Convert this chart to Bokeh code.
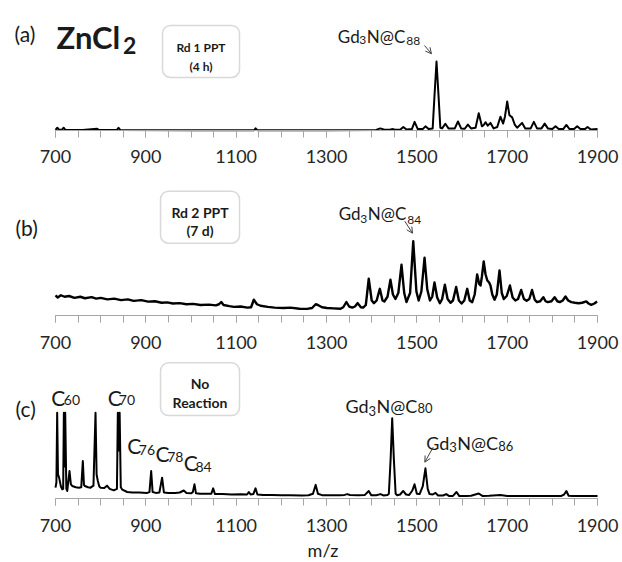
from bokeh.plotting import figure
from bokeh.models import Range1d, FixedTicker, Label, BoxAnnotation, Arrow, OpenHead
from bokeh.layouts import column
from bokeh.embed import file_html
from bokeh.resources import INLINE

# ---------------- data ----------------
TICKS = [700, 900, 1100, 1300, 1500, 1700, 1900]
TICK_LABELS = ["700", "900", "1100", "1300", "1500", "1700", "1900"]
MINOR_TICKS = [700, 750, 800, 850, 900, 950, 1000, 1050, 1100, 1150, 1200, 1250, 1300,
               1350, 1400, 1450, 1500, 1550, 1600, 1650, 1700, 1750, 1800, 1850, 1900]

# (a) ZnCl2, Rd 1 PPT (4 h)
mz_a = [700, 704, 708, 714, 718, 722, 760, 792, 796, 836, 839.5, 843, 1000, 1140, 1143, 1147,
        1300, 1410, 1419, 1428, 1440, 1445, 1452, 1463, 1470, 1477, 1489, 1495, 1502, 1513,
        1519, 1526, 1535, 1539, 1543.5, 1548, 1552, 1556, 1563, 1570, 1584, 1591, 1598, 1606,
        1613, 1620, 1630, 1637, 1644, 1648, 1652, 1657, 1663, 1670, 1678, 1685, 1691, 1695,
        1700, 1705, 1711, 1717, 1722, 1733, 1740, 1752, 1759, 1766, 1776, 1783, 1790, 1800,
        1807, 1814, 1824, 1831, 1838, 1848, 1855, 1862, 1872, 1878, 1885, 1900]
int_a = [1, 4, 1, 1, 4, 1, 0.8, 2.5, 0.8, 0.8, 4, 0.8, 0.5, 0.5, 3, 0.5,
         0.5, 0.8, 3, 1, 1, 2, 1, 1, 5, 1.5, 2, 12.5, 2, 2,
         6, 2, 3, 50, 100, 50, 4, 3, 9.7, 3, 3, 13, 3, 2.5,
         8.5, 3, 4, 25, 6, 8, 12, 7, 11, 3, 5, 20, 10, 20,
         42, 22, 19, 8, 4, 11, 3, 3, 12.5, 3, 3, 10, 3, 2,
         6, 2, 2, 8, 2, 2, 6, 2, 2, 5, 1.5, 2]

# (b) Rd 2 PPT (7 d)
mz_b = [700, 705, 712, 720, 730, 742, 755, 765, 780, 790, 800, 815, 830, 845, 860, 873, 890,
        905, 920, 935, 947, 960, 975, 990, 1005, 1021, 1040, 1055, 1062, 1067, 1072, 1085,
        1095, 1110, 1125, 1133, 1139, 1146, 1154, 1170, 1185, 1205, 1220, 1240, 1257, 1268,
        1276, 1281, 1290, 1301, 1315, 1331, 1337, 1344, 1350, 1357, 1363, 1369, 1376, 1381,
        1387, 1393.5, 1400, 1405, 1411, 1418, 1424, 1428, 1435, 1441.5, 1447, 1452.5, 1459,
        1466, 1472, 1477, 1485, 1492, 1499, 1504, 1510, 1517, 1523, 1529, 1534, 1539, 1545,
        1551, 1556, 1562, 1568, 1574.5, 1580, 1587, 1593, 1599, 1605, 1611.5, 1617, 1622.5,
        1628, 1633.5, 1638, 1641, 1644, 1648, 1652, 1656, 1660, 1663, 1667, 1672, 1677, 1683,
        1688, 1692.5, 1699, 1706, 1712, 1718, 1724, 1731, 1737, 1743, 1749, 1755, 1761, 1766,
        1773, 1780, 1785, 1790, 1798, 1805, 1811, 1816.5, 1823, 1829, 1835, 1842, 1850, 1858,
        1866, 1875, 1880, 1886, 1893, 1899]
int_b = [26.7, 24, 27, 25, 26, 23.5, 25, 23, 24.5, 22.5, 23.5, 21.5, 22.5, 20.5, 21.5, 19.5, 20.5,
         18.5, 19, 17, 17.5, 16, 16.5, 15, 15.5, 14, 14.5, 13.5, 15, 18, 14, 12.5,
         11.5, 12, 10.5, 11, 21, 15, 13, 11.5, 10.5, 10, 10.5, 9, 8.8, 10,
         15, 14, 11, 10, 9.5, 9, 11, 18, 12, 10.5, 12, 16.5, 11, 10.5,
         14, 49, 20, 16.5, 20, 35.6, 20, 18.7, 25, 47.6, 28, 22, 30,
         67.6, 30, 18, 30, 99, 32, 20, 32, 77, 35, 20, 25, 44, 24,
         16.4, 22, 41, 22, 17, 20, 38, 20, 16, 20, 35.6, 20, 17.8,
         28, 54.7, 42, 40, 52, 72, 55, 46.7, 44, 40, 28, 21, 28, 60,
         30, 22, 26, 40, 24, 20, 22, 34, 22, 19.6, 22, 34, 21, 17.8,
         19, 24.4, 19, 17.8, 19, 24.4, 19, 17.8, 20, 25.3, 20, 17.8, 17, 16.4,
         17, 18.7, 16, 14.2, 16, 18.7]

# (c) No Reaction
mz_c = [700, 702, 703.7, 705.5, 708, 712, 715, 717, 718.5, 720, 721.5, 724, 726, 731, 734, 737,
        745, 751.6, 757, 760.5, 763, 765, 772, 777.5, 784, 788.6, 791, 793.7, 797, 800, 808,
        814, 820, 829, 836, 838, 840, 842, 844.5, 848, 858.7, 870, 885, 903, 908, 911.8, 915,
        922, 930, 936, 940, 950, 965, 975, 984, 990, 1000, 1004, 1007.7, 1011, 1020, 1035,
        1045, 1049, 1053, 1070, 1090, 1110, 1124, 1128, 1132, 1138, 1142.8, 1147, 1160, 1180,
        1200, 1220, 1245, 1260, 1270, 1276, 1281, 1290, 1310, 1330, 1340, 1346, 1352, 1370,
        1385, 1393.5, 1399, 1410, 1419.5, 1426, 1435, 1438, 1442, 1445.4, 1449, 1453, 1456.5,
        1463, 1469.7, 1476, 1483, 1490, 1494.8, 1500, 1506, 1513, 1519, 1524, 1528, 1535,
        1541.3, 1547, 1558, 1565, 1571, 1580, 1587.8, 1594, 1610, 1620, 1637, 1645, 1660,
        1685, 1700, 1750, 1800, 1820, 1826, 1831, 1836, 1845, 1870, 1900]
int_c = [13.5, 20, 107, 30, 26, 15, 11.5, 12, 107, 40, 107, 12, 9.4, 34.3, 18, 15.6,
         14, 13.5, 14, 46.8, 17, 15.6, 14, 13.5, 16, 107, 30, 21.8, 15, 13.5, 13,
         16, 12, 10.2, 12, 107, 60, 107, 14, 11, 8.1, 7.5, 7.5, 7, 8, 34.3, 8,
         7, 7.5, 26, 7.5, 7, 7, 7.5, 10, 7, 6.5, 8, 17.7, 6.5, 6, 6,
         6, 12.7, 5.5, 5.5, 5, 5.2, 5, 8, 5, 5.5, 12.7, 5, 4.5, 4.4,
         4, 4, 3.8, 4, 6, 17, 6, 4.2, 4, 4, 4.5, 5.5, 4.3, 4,
         4.5, 9.4, 4, 4, 5.5, 3.8, 4.5, 6, 50, 100, 50, 6, 4,
         5, 9.4, 5, 4.4, 10, 17.7, 6, 5.5, 15, 37.6, 12, 5.5, 5,
         7, 3.8, 3.8, 5.5, 3.2, 3.2, 8.1, 3, 3.2, 3.5, 6.2, 3.2, 3.3,
         4.4, 3.2, 3, 3, 3.2, 5, 9.4, 3.5, 3, 3, 3]

# ---------------- layout / style ----------------
FONT = "Lato"
W = 622
PX_PER_MZ = 0.4517
X0 = 700 - 55 / PX_PER_MZ
X1 = X0 + W / PX_PER_MZ
AXIS_GRAY = "#a6a6a6"
TXT = "#1a1a1a"


def panel(height, y0, y1, mz, inten, lw):
    p = figure(width=W, height=height, output_backend="svg", toolbar_location=None,
               x_range=Range1d(X0, X1), y_range=Range1d(y0, y1),
               min_border_left=0, min_border_right=0, min_border_top=0,
               min_border_bottom=0, y_axis_location=None)
    p.line(mz, inten, line_color="black", line_width=lw, line_join="round")
    ax = p.xaxis[0]
    ax.fixed_location = 0
    ax.bounds = (700, 1900)
    ax.ticker = FixedTicker(ticks=TICKS, minor_ticks=MINOR_TICKS)
    ax.major_label_overrides = {t: s for t, s in zip(TICKS, TICK_LABELS)}
    ax.axis_line_color = AXIS_GRAY
    ax.axis_line_width = 1
    ax.major_tick_line_color = AXIS_GRAY
    ax.minor_tick_line_color = AXIS_GRAY
    ax.major_tick_in = 0
    ax.major_tick_out = 7
    ax.minor_tick_in = 0
    ax.minor_tick_out = 7
    ax.major_label_standoff = 13
    ax.major_label_text_font = FONT
    ax.major_label_text_font_size = "18px"
    ax.major_label_text_color = "#262626"
    p.grid.visible = False
    p.outline_line_color = None
    p.background_fill_color = "white"
    p.border_fill_color = "white"
    return p


def txt(p, x, y, s, size, bold=False, align="left"):
    p.add_layout(Label(x=x, y=y, text=s, text_font=FONT, text_font_size=f"{size}px",
                       text_font_style="bold" if bold else "normal", text_color=TXT,
                       text_align=align, text_baseline="alphabetic"))


def box(p, l, r, t, b):
    p.add_layout(BoxAnnotation(left=l, right=r, top=t, bottom=b, fill_color="white",
                               fill_alpha=1, line_color="#808080", line_width=1.5,
                               border_radius=8))


def arrow(p, x0, y0, x1, y1):
    p.add_layout(Arrow(end=OpenHead(size=6, line_width=1, line_color="#404040"),
                       x_start=x0, y_start=y0, x_end=x1, y_end=y1,
                       line_width=1, line_color="#404040"))


def gd3n(p, x, y, dy3, dysub, sub, size, subsize, off3, offn, offsub):
    # Gd3N@Cnn label built from normal text plus subscripts (offsets in m/z units)
    txt(p, x, y, "Gd", size)
    txt(p, x + off3, y - dy3, "3", subsize)
    txt(p, x + offn, y, "N@C", size)
    txt(p, x + offn + offsub, y - dysub, sub, subsize)


# (a)  axis at page y 130, 0.69 px per unit
pa = panel(180, -72.5, 188.4, mz_a, int_a, 2)
txt(pa, 609.2, 139.9, "(a)", 21)
txt(pa, 702.2, 134.8, "ZnCl", 31, bold=True)
txt(pa, 849.5, 123.2, "2", 23, bold=True)
box(pa, 936.9, 1107.4, 152.2, 76.8)
txt(pa, 1022.1, 120.3, "Rd 1 PPT", 12, bold=True, align="center")
txt(pa, 1022.1, 92.8, "(4 h)", 12, bold=True, align="center")
gd3n(pa, 1325.0, 136.7, 5.5, 6.3, "88", 17, 12, 47.6, 64.2, 87.5)
arrow(pa, 1516.9, 123.2, 1532.4, 111.2)

# (b)  axis at page y 315, 0.75 px per unit
pb = panel(180, -60.0, 180, mz_b, int_b, 2.4)
txt(pb, 611.4, 117.7, "(b)", 21)
box(pb, 932.5, 1107.4, 165.7, 96.4)
txt(pb, 1019.9, 137.7, "Rd 2 PPT", 14, bold=True, align="center")
txt(pb, 1019.9, 113.3, "(7 d)", 14, bold=True, align="center")
gd3n(pb, 1327.2, 135.6, 6.7, 7.6, "84", 17, 12, 47.6, 64.2, 87.5)
arrow(pb, 1473.3, 125.7, 1490.4, 109.7)

# (c)  axis at page y 498, 0.802 px per unit
pc = panel(202, -79.8, 172.1, mz_c, int_c, 2)
txt(pc, 611.4, 111.8, "(c)", 21)
for cx, cy, sx, sy, sub in [(690.5, 125.9, 718.4, 122.8, "60"),
                            (815.8, 125.9, 840.1, 122.8, "70"),
                            (858.7, 66.1, 884.4, 60.7, "76"),
                            (921.4, 55.7, 947.2, 51.5, "78"),
                            (984.0, 45.2, 1009.9, 39.9, "84")]:
    txt(pc, cx, cy, "C", 21)
    txt(pc, sx, sy, sub, 14)
box(pc, 932.5, 1107.4, 169.2, 103.5)
txt(pc, 1019.9, 143.0, "No", 14, bold=True, align="center")
txt(pc, 1019.9, 120.1, "Reaction", 14, bold=True, align="center")
gd3n(pc, 1342.0, 115.1, 5.4, 2.5, "80", 18, 13, 50.9, 68.6, 90.8)
gd3n(pc, 1520.7, 69.5, 5.3, 3.4, "86", 18, 13, 50.9, 68.6, 90.8)
arrow(pc, 1536.2, 64.0, 1517.6, 45.3)
txt(pc, 1292.2, -63.6, "m/z", 18, align="center")

layout = column(pa, pb, pc)
open("out.html", "w").write(file_html(layout, INLINE))
